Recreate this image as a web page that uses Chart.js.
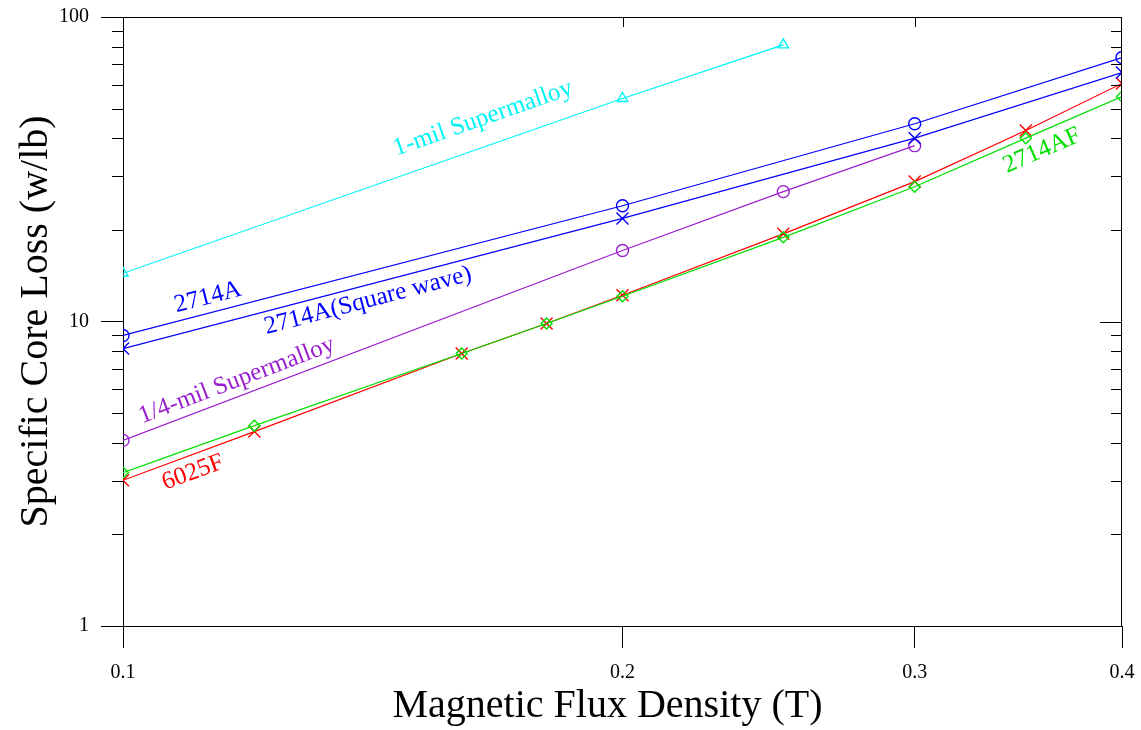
<!DOCTYPE html>
<html>
<head>
<meta charset="utf-8">
<title>Specific Core Loss</title>
<script src="https://cdn.jsdelivr.net/npm/chart.js@4.4.1/dist/chart.umd.min.js"></script>
<style>
    html, body { margin: 0; padding: 0; background: #fff; }
    #wrap { width: 1141px; height: 730px; }
</style>
</head>
<body>
<div id="wrap"><canvas id="grafico" width="1141" height="730"></canvas></div>
<script>
// valores (eixos log-log)
const xSupermalloy1 = [0.1, 0.2, 0.25];
const ySupermalloy1 = [14.4, 54, 81];

const x2714A = [0.1, 0.2, 0.3, 0.4];
const y2714A = [9.0, 24.0, 44.6, 73.6];
const y2714ASquare = [8.15, 21.8, 40.0, 65.7];

const xSupermalloyQuarter = [0.1, 0.2, 0.25, 0.3];
const ySupermalloyQuarter = [4.07, 17.1, 26.7, 37.8];

const xFerrite = [0.1, 0.12, 0.16, 0.18, 0.2, 0.25, 0.3, 0.35, 0.4];
const y6025F = [3.01, 4.35, 7.85, 9.85, 12.2, 19.4, 28.8, 42.4, 60.5];
const y2714AF = [3.19, 4.55, 7.85, 9.85, 12.1, 18.9, 27.7, 40.0, 54.8];

const xTicks = [0.1, 0.2, 0.3, 0.4];
const yMajorTicks = [1, 10, 100];
const yMinorTicks = [2, 3, 4, 5, 6, 7, 8, 9, 20, 30, 40, 50, 60, 70, 80, 90];

// rotulos escritos ao longo das curvas: [texto, serie, x, y]
const rotulos = [
    ['1-mil Supermalloy', 0, 0.1648, 46.4],
    ['2714A', 1, 0.1125, 12.0],
    ['2714A(Square wave)', 2, 0.1405, 11.7],
    ['1/4-mil Supermalloy', 3, 0.1171, 6.40],
    ['6025F', 4, 0.1102, 3.19],
    ['2714AF', 5, 0.358, 36.4]
];

const fonte = '"Liberation Serif", "Times New Roman", serif';

document.addEventListener("DOMContentLoaded", function () {
    const pontos = (xs, ys) => xs.map((x, i) => ({ x: x, y: ys[i] }));

    const serie = (nome, xs, ys, cor, estilo, raio) => ({
        label: nome,
        data: pontos(xs, ys),
        borderColor: cor,
        backgroundColor: 'transparent',
        borderWidth: 1.2,
        pointStyle: estilo,
        pointRadius: raio,
        pointBorderWidth: 1.4,
        pointBorderColor: cor,
        pointBackgroundColor: 'transparent',
        tension: 0
    });

    const datasets = [
        serie('1-mil Supermalloy', xSupermalloy1, ySupermalloy1, '#00f5f5', 'triangle', 6),
        serie('2714A', x2714A, y2714A, '#0000ff', 'circle', 6),
        serie('2714A(Square wave)', x2714A, y2714ASquare, '#0000ff', 'crossRot', 8.5),
        serie('1/4-mil Supermalloy', xSupermalloyQuarter, ySupermalloyQuarter, '#9a1fcf', 'circle', 6),
        serie('2714AF', xFerrite, y2714AF, '#00e000', 'rectRot', 5.5),
        serie('6025F', xFerrite, y6025F, '#ff0000', 'crossRot', 8.5)
    ];
    // ordem dos rotulos segue a lista acima (2714AF e 6025F trocados)
    const indiceSerie = [0, 1, 2, 3, 5, 4];

    const molduraPlugin = {
        id: 'moldura',
        afterDraw(chart) {
            const ctx = chart.ctx;
            const a = chart.chartArea;
            const xs = chart.scales.x;
            const ys = chart.scales.y;
            ctx.save();
            ctx.strokeStyle = '#000';
            ctx.lineWidth = 1;
            ctx.beginPath();
            ctx.moveTo(a.left, a.top + 0.5);
            ctx.lineTo(a.right, a.top + 0.5);
            ctx.moveTo(Math.round(a.right) - 0.5, a.top);
            ctx.lineTo(Math.round(a.right) - 0.5, a.bottom);
            yMinorTicks.forEach(v => {
                const py = Math.round(ys.getPixelForValue(v)) + 0.5;
                ctx.moveTo(a.left - 11, py);
                ctx.lineTo(a.left, py);
                ctx.moveTo(a.right - 11, py);
                ctx.lineTo(a.right, py);
            });
            yMajorTicks.forEach(v => {
                const py = Math.round(ys.getPixelForValue(v)) + 0.5;
                ctx.moveTo(a.right - 22, py);
                ctx.lineTo(a.right, py);
            });
            xTicks.slice(1, -1).forEach(v => {
                const px = Math.round(xs.getPixelForValue(v)) + 0.5;
                ctx.moveTo(px, a.top);
                ctx.lineTo(px, a.top + 10);
            });
            ctx.stroke();

            // titulo do eixo x, um pouco a esquerda do centro como no original
            ctx.fillStyle = '#000';
            ctx.font = '40px ' + fonte;
            ctx.textAlign = 'center';
            ctx.textBaseline = 'middle';
            ctx.fillText('Magnetic Flux Density (T)', (a.left + a.right) / 2 - 15, 706);
            ctx.restore();
        },
        afterDatasetsDraw(chart) {
            const ctx = chart.ctx;
            const xs = chart.scales.x;
            const ys = chart.scales.y;
            ctx.save();
            ctx.font = '25px ' + fonte;
            ctx.textAlign = 'center';
            ctx.textBaseline = 'middle';
            rotulos.forEach(r => {
                const ds = datasets[indiceSerie[r[1]]];
                const d = ds.data;
                let i = 0;
                while (i < d.length - 2 && d[i + 1].x < r[2]) i++;
                const dx = xs.getPixelForValue(d[i + 1].x) - xs.getPixelForValue(d[i].x);
                const dy = ys.getPixelForValue(d[i + 1].y) - ys.getPixelForValue(d[i].y);
                ctx.save();
                ctx.translate(xs.getPixelForValue(r[2]), ys.getPixelForValue(r[3]));
                ctx.rotate(Math.atan2(dy, dx));
                ctx.fillStyle = ds.borderColor;
                ctx.fillText(r[0], 0, 0);
                ctx.restore();
            });
            ctx.restore();
        }
    };

    new Chart(document.getElementById('grafico').getContext('2d'), {
        type: 'line',
        data: { datasets: datasets },
        options: {
            responsive: false,
            animation: false,
            events: [],
            layout: { padding: { top: 17, right: 19, left: 0, bottom: 0 } },
            plugins: {
                legend: { display: false },
                tooltip: { enabled: false }
            },
            scales: {
                x: {
                    type: 'logarithmic',
                    min: 0.1,
                    max: 0.4,
                    afterBuildTicks: scale => { scale.ticks = xTicks.map(v => ({ value: v })); },
                    afterFit: scale => {
                        scale.height = 104;
                        scale.paddingLeft = 0;
                        scale.paddingRight = 0;
                    },
                    ticks: {
                        callback: v => String(v),
                        color: '#000',
                        font: { family: fonte, size: 20 },
                        padding: 13,
                        maxRotation: 0,
                        autoSkip: false
                    },
                    grid: { drawOnChartArea: false, tickLength: 22, color: '#000', tickWidth: 1 },
                    border: { color: '#000', width: 1 },
                    title: { display: false }
                },
                y: {
                    type: 'logarithmic',
                    min: 1,
                    max: 100,
                    afterBuildTicks: scale => { scale.ticks = yMajorTicks.map(v => ({ value: v })); },
                    afterFit: scale => {
                        scale.width = 123;
                        scale.paddingTop = 0;
                        scale.paddingBottom = 0;
                    },
                    ticks: {
                        callback: v => String(v),
                        color: '#000',
                        font: { family: fonte, size: 20 },
                        padding: 12,
                        autoSkip: false
                    },
                    grid: { drawOnChartArea: false, tickLength: 22, color: '#000', tickWidth: 1 },
                    border: { color: '#000', width: 1 },
                    title: {
                        display: true,
                        text: 'Specific Core Loss (w/lb)',
                        color: '#000',
                        font: { family: fonte, size: 40 },
                        padding: { top: 12, bottom: 0 }
                    }
                }
            }
        },
        plugins: [molduraPlugin]
    });
});
</script>
</body>
</html>
